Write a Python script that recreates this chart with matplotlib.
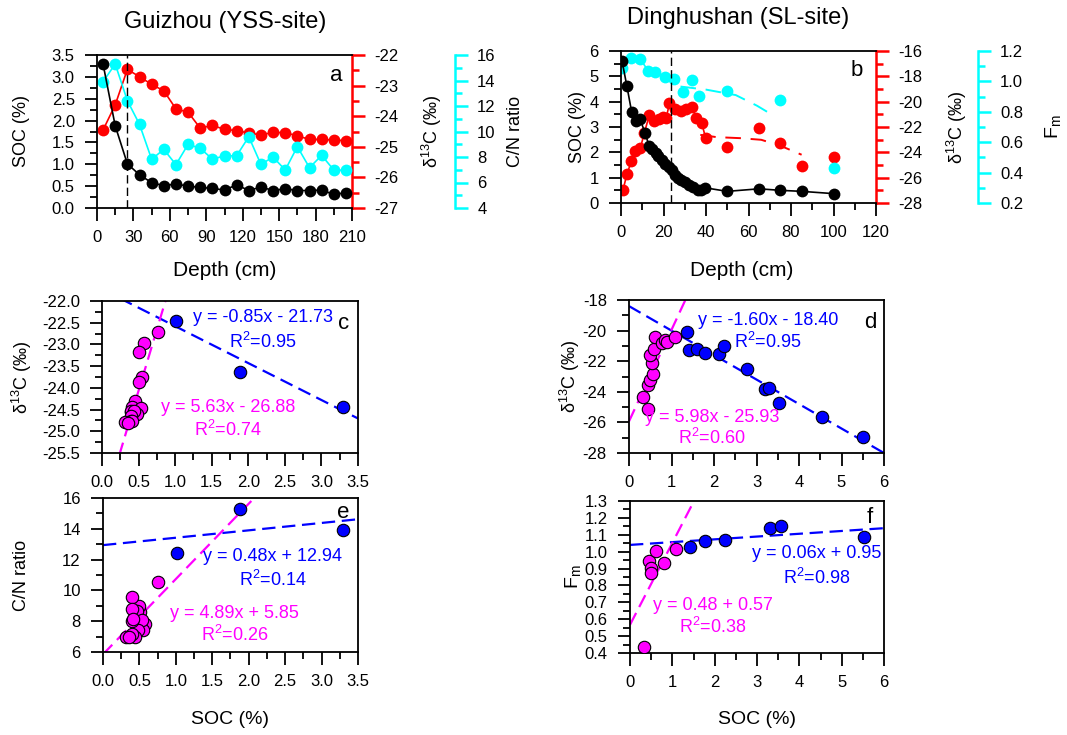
import matplotlib
matplotlib.use("Agg")
import matplotlib.pyplot as plt
import numpy as np
from matplotlib.ticker import MultipleLocator, FormatStrFormatter

plt.rcParams['font.family'] = ['Liberation Sans', 'DejaVu Sans']
plt.rcParams['mathtext.fontset'] = 'custom'
plt.rcParams['mathtext.rm'] = 'Liberation Sans'
plt.rcParams['mathtext.it'] = 'Liberation Sans:italic'
plt.rcParams['mathtext.default'] = 'regular'
plt.rcParams['axes.unicode_minus'] = False
plt.rcParams['font.size'] = 12

# --- Guizhou (YSS-site) profile, panel a (c and e reuse it) ---
depth_a = [5, 15, 25, 35, 45, 55, 65, 75, 85, 95, 105, 115, 125, 135, 145,
           155, 165, 175, 185, 195, 205]
soc_a = [3.29, 1.88, 1.01, 0.76, 0.58, 0.51, 0.55, 0.50, 0.47, 0.45, 0.41,
         0.53, 0.40, 0.48, 0.40, 0.44, 0.40, 0.40, 0.41, 0.31, 0.35]
d13c_a = [-24.45, -23.63, -22.47, -22.71, -22.96, -23.17, -23.76, -23.87,
          -24.39, -24.30, -24.43, -24.47, -24.55, -24.61, -24.53, -24.54,
          -24.64, -24.76, -24.76, -24.78, -24.80]
cn_a = [13.91, 15.29, 12.42, 10.56, 7.82, 8.60, 7.40, 8.99, 8.68, 7.84, 8.08,
        8.10, 9.59, 7.42, 8.00, 6.98, 8.81, 7.16, 8.13, 6.98, 6.95]
n_top_a = 3          # samples above the dashed line (blue in c, e)
split_a = 25

# --- Dinghushan (SL-site) profile, panel b ---
depth_b_soc = [0.5, 2.8, 5.0, 7.0, 9.0, 11.3, 13.2, 14.8, 16.4, 17.6, 19.2,
               20.8, 22.4, 23.9, 25.4, 26.9, 28.4, 30.2, 31.8, 33.9, 36.0,
               37.6, 39.6, 50, 65, 75, 85, 100]
soc_b = [5.6, 4.6, 3.6, 3.25, 3.3, 2.77, 2.26, 2.14, 1.97, 1.84, 1.68, 1.55,
         1.44, 1.29, 1.12, 0.98, 0.89, 0.81, 0.72, 0.62, 0.53, 0.52, 0.60,
         0.46, 0.56, 0.50, 0.46, 0.37]
depth_b_d13c = [1, 2.8, 4.9, 6.8, 9.1, 11.0, 13.3, 15.4, 17.8, 19.8, 21.3,
                22.8, 25.6, 28.0, 30.7, 33.2, 35.5, 38.0, 39.8, 50, 65, 75,
                85, 100]
d13c_b = [-26.95, -25.7, -24.72, -23.86, -23.68, -22.45, -21.08, -21.5,
          -21.36, -21.2, -21.3, -20.1, -20.55, -20.7, -20.6, -20.45, -21.25,
          -21.7, -22.85, -23.55, -22.1, -23.3, -25.1, -24.35]
n_line_d13c_b = 19
depth_b_fm = [0.5, 4.9, 9.1, 12.7, 16.2, 20.6, 24.9, 29.1, 33.2, 36.9, 50,
              75, 100]
fm_b = [1.088, 1.154, 1.147, 1.071, 1.060, 1.031, 1.016, 0.929, 1.010, 0.906,
        0.939, 0.878, 0.432]
n_line_fm_b = 7
trend_depth_d13c = [37.3, 45, 56, 66, 75, 85]
trend_d13c = [-22.62, -22.80, -22.88, -23.01, -23.48, -24.19]
trend_depth_fm = [28, 40, 54, 64, 72]
trend_fm = [0.966, 0.946, 0.91, 0.84, 0.773]
split_b = 23.3

# --- panel d / f scatter (SOC vs d13C, SOC vs Fm) ---
soc_d_blue = [1.36, 1.41, 1.61, 1.79, 2.12, 2.24, 2.77, 3.20, 3.29, 3.53, 4.53, 5.51]
d13c_d_blue = [-20.07, -21.28, -21.17, -21.45, -21.54, -21.01, -22.48, -23.83,
               -23.72, -24.72, -25.64, -26.95]
soc_d_mag = [0.33, 0.45, 0.45, 0.49, 0.56, 0.53, 0.49, 0.59, 0.61, 0.77, 0.85, 0.90, 1.08]
d13c_d_mag = [-24.33, -25.10, -23.57, -23.24, -22.85, -22.10, -21.60, -21.23,
              -20.45, -20.79, -20.62, -20.73, -20.45]
soc_f_blue = [1.42, 1.77, 2.24, 3.31, 3.56, 5.53]
fm_f_blue = [1.029, 1.062, 1.068, 1.141, 1.151, 1.088]
soc_f_mag = [0.33, 0.46, 0.49, 0.49, 0.61, 0.80, 1.09]
fm_f_mag = [0.433, 0.944, 0.901, 0.876, 1.005, 0.935, 1.015]

# regression lines (slope, intercept) as drawn
fit_c = [(-0.85, -21.73), (5.63, -26.88)]
fit_d = [(-1.60, -18.40), (5.98, -25.93)]
fit_e = [(0.48, 12.94), (4.89, 5.85)]
fit_f = [(0.0165, 1.04), (0.485, 0.567)]

BLUE = '#0000ff'
MAG = '#ff00ff'
CYAN = '#00ffff'
RED = '#ff0000'

W, H = 1067, 735
fig = plt.figure(figsize=(W / 100, H / 100), dpi=100)


def box(l, t, r, b):
    return [l / W, 1 - b / H, (r - l) / W, (b - t) / H]


def ftext(px, py, s, **kw):
    kw.setdefault('ha', 'center')
    kw.setdefault('va', 'center')
    fig.text(px / W, 1 - py / H, s, **kw)


def style(ax, xmaj, xmin, ymaj, ymin, xfmt, yfmt):
    ax.xaxis.set_major_locator(MultipleLocator(xmaj))
    ax.xaxis.set_minor_locator(MultipleLocator(xmin))
    ax.yaxis.set_major_locator(MultipleLocator(ymaj))
    ax.yaxis.set_minor_locator(MultipleLocator(ymin))
    ax.xaxis.set_major_formatter(FormatStrFormatter(xfmt))
    ax.yaxis.set_major_formatter(FormatStrFormatter(yfmt))
    ax.tick_params(which='major', direction='out', length=9, width=1.3,
                   pad=7, labelsize=12)
    ax.tick_params(which='minor', direction='out', length=5, width=1.3)
    ax.tick_params(which='both', top=False, right=False)
    for s in ax.spines.values():
        s.set_linewidth(1.3)


def right_axis(ax, color, offset, lim, maj, mnr, fmt):
    tw = ax.twinx()
    tw.set_ylim(*lim)
    tw.yaxis.set_major_locator(MultipleLocator(maj))
    tw.yaxis.set_minor_locator(MultipleLocator(mnr))
    tw.yaxis.set_major_formatter(FormatStrFormatter(fmt))
    for k in ['top', 'left', 'bottom']:
        tw.spines[k].set_visible(False)
    tw.spines['right'].set_position(('axes', offset))
    tw.spines['right'].set_color(color)
    tw.spines['right'].set_linewidth(1.8)
    tw.tick_params(which='major', direction='out', length=9, width=1.8,
                   color=color, pad=7, labelsize=12)
    tw.tick_params(which='minor', direction='out', length=5, width=1.8,
                   color=color)
    return tw


mk = dict(marker='o', ms=8.5, mec='none')

# ---------------- panel a ----------------
ax = fig.add_axes(box(97, 55, 352, 208))
style(ax, 30, 15, 0.5, 0.25, '%d', '%.1f')
ax.spines['right'].set_visible(False)
ax.set_xlim(0, 210)
ax.set_ylim(0, 3.5)
ax.axvline(split_a, color='k', ls=(0, (6, 3)), lw=1.0)
axr = right_axis(ax, RED, 1.0, (-27, -22), 1, 0.5, '%d')
axc = right_axis(ax, CYAN, 1.404, (4, 16), 2, 1, '%d')
axc.plot(depth_a, cn_a, color=CYAN, lw=1.2, mfc=CYAN, **mk)
axr.plot(depth_a, d13c_a, color=RED, lw=1.2, mfc=RED, **mk)
ax.set_zorder(axc.get_zorder() + 1)
ax.patch.set_visible(False)
ax.plot(depth_a, soc_a, color='k', lw=1.2, mfc='k', **mk)
ax.text(197, 3.04, 'a', fontsize=16, ha='center', va='center')

# ---------------- panel b ----------------
bx = fig.add_axes(box(621, 51, 876, 203))
style(bx, 20, 10, 1, 0.5, '%d', '%d')
bx.spines['right'].set_visible(False)
bx.set_xlim(0, 120)
bx.set_ylim(0, 6)
bx.axvline(split_b, color='k', ls=(0, (6, 3)), lw=1.0)
bxr = right_axis(bx, RED, 1.0, (-28, -16), 2, 1, '%d')
bxc = right_axis(bx, CYAN, 1.40, (0.2, 1.2), 0.2, 0.1, '%.1f')
bxc.plot(depth_b_fm[:n_line_fm_b], fm_b[:n_line_fm_b], color=CYAN, lw=1.2)
bxc.plot(trend_depth_fm, trend_fm, color=CYAN, lw=1.4, ls=(0, (8, 5)))
bxc.plot(depth_b_fm, fm_b, ls='none', mfc=CYAN, **mk)
bxr.plot(depth_b_d13c[:n_line_d13c_b], d13c_b[:n_line_d13c_b], color=RED, lw=1.2)
bxr.plot(trend_depth_d13c, trend_d13c, color=RED, lw=1.4, ls=(0, (8, 5)))
bxr.plot(depth_b_d13c, d13c_b, ls='none', mfc=RED, **mk)
bx.set_zorder(bxc.get_zorder() + 1)
bx.patch.set_visible(False)
bx.plot(depth_b_soc, soc_b, color='k', lw=1.2, mfc='k', **mk)
bx.text(111, 5.25, 'b', fontsize=16, ha='center', va='center')

# ---------------- scatter panels ----------------
sc = dict(s=80, edgecolors='k', linewidths=0.8, zorder=3)
dash = dict(lw=1.6, ls=(0, (6, 3)), zorder=2)


def scatter_panel(rect, xlim, ylim, xt, yt, xfmt, yfmt, blue, mag, fits, letter,
                  letter_xy, txt_blue, txt_mag):
    a = fig.add_axes(box(*rect))
    style(a, xt[0], xt[1], yt[0], yt[1], xfmt, yfmt)
    a.set_xlim(*xlim)
    a.set_ylim(*ylim)
    xx = np.linspace(xlim[0], xlim[1], 200)
    a.plot(xx, fits[0][0] * xx + fits[0][1], color=BLUE, **dash)
    a.plot(xx, fits[1][0] * xx + fits[1][1], color=MAG, **dash)
    a.scatter(blue[0], blue[1], c=BLUE, **sc)
    a.scatter(mag[0], mag[1], c=MAG, **sc)
    a.text(*letter_xy, letter, fontsize=16, ha='center', va='center')
    for (x, y, s) in txt_blue:
        a.text(x, y, s, color=BLUE, fontsize=13, ha='center', va='center')
    for (x, y, s) in txt_mag:
        a.text(x, y, s, color=MAG, fontsize=13, ha='center', va='center')
    return a


scatter_panel((102, 301, 358, 453), (0, 3.5), (-25.5, -22), (0.5, 0.25), (0.5, 0.25),
              '%.1f', '%.1f',
              (soc_a[:n_top_a], d13c_a[:n_top_a]), (soc_a[n_top_a:], d13c_a[n_top_a:]),
              fit_c, 'c', (3.30, -22.51),
              [(2.20, -22.37, 'y = -0.85x - 21.73'), (2.20, -22.94, 'R$^2$=0.95')],
              [(1.72, -24.46, 'y = 5.63x - 26.88'), (1.72, -24.97, 'R$^2$=0.74')])

scatter_panel((103, 498, 358, 652), (0, 3.5), (6, 16), (0.5, 0.25), (2, 1),
              '%.1f', '%d',
              (soc_a[:n_top_a], cn_a[:n_top_a]), (soc_a[n_top_a:], cn_a[n_top_a:]),
              fit_e, 'e', (3.29, 15.09),
              [(2.33, 12.17, 'y = 0.48x + 12.94'), (2.33, 10.68, 'R$^2$=0.14')],
              [(1.81, 8.53, 'y = 4.89x + 5.85'), (1.81, 7.10, 'R$^2$=0.26')])

scatter_panel((629, 300, 884, 453), (0, 6), (-28, -18), (1, 0.5), (2, 1),
              '%d', '%d',
              (soc_d_blue, d13c_d_blue), (soc_d_mag, d13c_d_mag),
              fit_d, 'd', (5.67, -19.44),
              [(3.27, -19.31, 'y = -1.60x - 18.40'), (3.27, -20.75, 'R$^2$=0.95')],
              [(1.95, -25.66, 'y = 5.98x - 25.93'), (1.95, -27.04, 'R$^2$=0.60')])

scatter_panel((630, 501, 884, 653), (0, 6), (0.4, 1.3), (1, 0.5), (0.1, 0.05),
              '%d', '%.1f',
              (soc_f_blue, fm_f_blue), (soc_f_mag, fm_f_mag),
              fit_f, 'f', (5.67, 1.205),
              [(4.42, 0.992, 'y = 0.06x + 0.95'), (4.42, 0.844, 'R$^2$=0.98')],
              [(1.96, 0.684, 'y = 0.48 + 0.57'), (1.96, 0.554, 'R$^2$=0.38')])

# ---------------- labels ----------------
d13 = '$\\delta^{13}$C (‰)'
ftext(225, 22, 'Guizhou (YSS-site)', fontsize=17)
ftext(738, 18, 'Dinghushan (SL-site)', fontsize=17)
ftext(22, 131, 'SOC (%)', fontsize=13, rotation=90)
ftext(432, 131, d13, fontsize=13, rotation=90)
ftext(515, 131, 'C/N ratio', fontsize=13, rotation=90)
ftext(225, 270, 'Depth (cm)', fontsize=15)
ftext(577, 127, 'SOC (%)', fontsize=13, rotation=90)
ftext(957, 127, d13, fontsize=13, rotation=90)
ftext(1053, 127, 'F$_m$', fontsize=14, rotation=90)
ftext(742, 270, 'Depth (cm)', fontsize=15)
ftext(22, 377, d13, fontsize=13, rotation=90)
ftext(22, 575, 'C/N ratio', fontsize=13, rotation=90)
ftext(570, 376, d13, fontsize=13, rotation=90)
ftext(573, 577, 'F$_m$', fontsize=14, rotation=90)
ftext(230, 720, 'SOC (%)', fontsize=14)
ftext(757, 720, 'SOC (%)', fontsize=14)

fig.savefig('out.png', dpi=100)
